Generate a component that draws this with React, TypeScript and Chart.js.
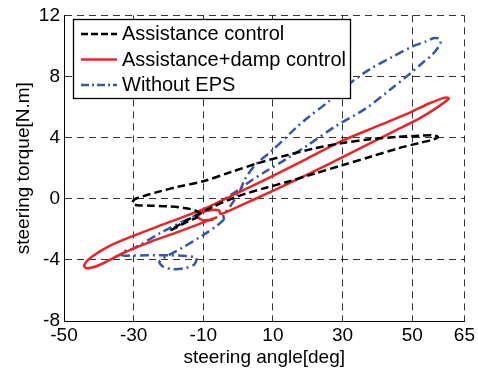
import React, { useEffect, useRef } from 'react';
import { Chart, registerables } from 'chart.js';

Chart.register(...registerables);

const xTicks = [-50, -30, -10, 10, 30, 50, 65];
const yTicks = [-8, -4, 0, 4, 8, 12];

const seriesLabels = ['Assistance control', 'Assistance+damp control', 'Without EPS'];

const assistX = [-10.5, -12.5, -15.5, -20, -25, -29, -30.3, -29.8, -27.5, -23, -17, -10, -2, 6, 14, 22, 30, 38, 46, 52, 56, 57.4, 56, 52, 46, 38, 30, 22, 14, 8, 2, -3, -7, -11, -15, -18, -19.5, -17.5, -14.5, -11.5];
const assistY = [-1.0, -0.75, -0.6, -0.5, -0.45, -0.42, -0.3, -0.05, 0.15, 0.45, 0.8, 1.15, 1.75, 2.35, 2.85, 3.3, 3.65, 3.9, 4.05, 4.12, 4.15, 4.05, 3.88, 3.65, 3.3, 2.75, 2.2, 1.65, 1.1, 0.72, 0.32, -0.1, -0.5, -0.95, -1.45, -1.85, -2.05, -1.85, -1.5, -1.2];

const dampX = [-7, -10, -11.5, -10.5, -8, -5.5, -5, -3, 5, 15, 25, 35, 45, 52, 57, 60.5, 59.5, 55, 49, 40, 30, 20, 10, 0, -10, -20, -30, -37, -42, -44.2, -43.5, -40, -33, -25, -17, -10, -6];
const dampY = [-1.35, -1.4, -1.2, -0.9, -0.75, -0.75, -1.0, -0.83, 0.0, 1.05, 2.15, 3.3, 4.45, 5.25, 5.95, 6.55, 6.62, 6.25, 5.6, 4.75, 3.8, 2.65, 1.5, 0.4, -0.68, -1.55, -2.42, -3.1, -3.8, -4.35, -4.55, -4.35, -3.55, -2.8, -2.15, -1.55, -1.2];

const noEpsX = [-4, -6, -10.2, -16, -20, -22.6, -21.5, -19, -15.5, -12.6, -12, -15, -20, -26, -31, -33.3, -32.8, -30, -22, -16, -11, -5, 0, 3.2, 8, 13.7, 20, 28, 36.6, 44, 49, 53, 55.7, 57.6, 58.2, 57.5, 56, 54, 50, 44, 38, 32.8, 26.1, 20, 16.6, 10, 5.1, 2, 0.3, -2, -4.2, -4];
const noEpsY = [-1.35, -1.75, -2.4, -3.2, -3.7, -4.12, -4.45, -4.6, -4.55, -4.3, -3.88, -3.75, -3.7, -3.7, -3.72, -3.7, -3.45, -3.25, -2.2, -1.5, -0.95, -0.15, 0.55, 1.1, 1.8, 2.58, 3.5, 4.75, 5.9, 7.2, 8.12, 8.9, 9.42, 9.95, 10.3, 10.5, 10.5, 10.3, 9.96, 9.25, 8.5, 7.68, 6.38, 5.3, 4.64, 3.2, 2.25, 1.3, 0.4, -0.4, -1.1, -1.35];

const zip = (xs: number[], ys: number[]) => xs.map((x, i) => ({ x, y: ys[i] }));

const FONT = '"Liberation Sans", Arial, Helvetica, sans-serif';

const boxLegend = {
  id: 'boxLegend',
  afterDatasetsDraw(chart: any) {
    const ctx = chart.ctx as CanvasRenderingContext2D;
    const rows = [34, 59.5, 85];
    ctx.save();
    ctx.fillStyle = '#ffffff';
    ctx.fillRect(73.5, 19.5, 277, 79);
    ctx.strokeStyle = '#000';
    ctx.lineWidth = 1.3;
    ctx.setLineDash([]);
    ctx.strokeRect(73.5, 19.5, 277, 79);
    chart.data.datasets.forEach((ds: any, i: number) => {
      const y = rows[i];
      ctx.strokeStyle = ds.borderColor;
      ctx.lineWidth = ds.borderWidth;
      ctx.setLineDash(ds.legendDash || []);
      ctx.beginPath();
      ctx.moveTo(81, y);
      ctx.lineTo(117, y);
      ctx.stroke();
      ctx.setLineDash([]);
      ctx.fillStyle = '#000';
      ctx.font = `20px ${FONT}`;
      ctx.textBaseline = 'middle';
      ctx.textAlign = 'left';
      ctx.fillText(ds.label, 122, y + 0.5);
    });
    ctx.restore();
  },
};

export default function App() {
  const ref = useRef<HTMLCanvasElement | null>(null);
  useEffect(() => {
    if (!ref.current) return;
    const common = { showLine: true, pointRadius: 0, borderWidth: 2.5, fill: false, tension: 0.3 };
    const chart = new Chart(ref.current, {
      type: 'scatter',
      data: {
        datasets: [
          { ...common, label: seriesLabels[0], data: zip(assistX, assistY), borderColor: '#000000', borderDash: [8, 4], legendDash: [7, 3] } as any,
          { ...common, label: seriesLabels[1], data: zip(dampX, dampY), borderColor: '#e8262a' } as any,
          { ...common, label: seriesLabels[2], data: zip(noEpsX, noEpsY), borderColor: '#3856a8', borderDash: [9, 4, 2, 4], legendDash: [8, 3, 2, 3] } as any,
        ],
      },
      options: {
        animation: false,
        responsive: true,
        maintainAspectRatio: false,
        layout: { padding: { left: 0, right: 12, top: 14, bottom: 0 } },
        plugins: { legend: { display: false }, tooltip: { enabled: false } },
        scales: {
          x: {
            type: 'linear',
            min: -50,
            max: 65,
            afterBuildTicks: (s: any) => { s.ticks = xTicks.map((v) => ({ value: v })); },
            afterFit: (s: any) => { s.height = 50; },
            grid: { color: 'rgba(0,0,0,0.8)', lineWidth: 1, drawTicks: false },
            border: { display: true, color: '#000', width: 1, dash: [7, 5] },
            ticks: { color: '#000', font: { family: FONT, size: 19 }, padding: 3, maxRotation: 0, autoSkip: false },
            title: { display: true, text: 'steering angle[deg]', color: '#000', font: { family: FONT, size: 19 }, padding: { top: 0, bottom: 2 } },
          },
          y: {
            type: 'linear',
            min: -8,
            max: 12,
            afterBuildTicks: (s: any) => { s.ticks = yTicks.map((v) => ({ value: v })); },
            afterFit: (s: any) => { s.width = 64; },
            grid: { color: 'rgba(0,0,0,0.8)', lineWidth: 1, drawTicks: false },
            border: { display: true, color: '#000', width: 1, dash: [7, 5] },
            ticks: { color: '#000', font: { family: FONT, size: 19 }, padding: 4, autoSkip: false },
            title: { display: true, text: 'steering torque[N.m]', color: '#000', font: { family: FONT, size: 19 }, padding: { top: 12, bottom: 0 } },
          },
        },
      } as any,
      plugins: [boxLegend],
    });
    return () => chart.destroy();
  }, []);
  return (
    <div style={{ position: 'absolute', left: 0, top: 0, width: 478, height: 371, background: '#fff' }}>
      <canvas ref={ref} />
    </div>
  );
}
